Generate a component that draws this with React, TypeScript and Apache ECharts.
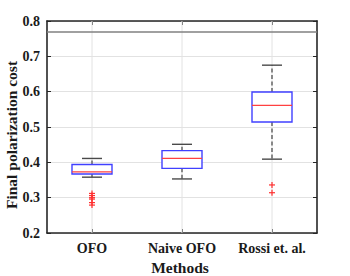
import React, { useEffect, useRef } from "react";
import * as echarts from "echarts";

const categories = ["OFO", "Naive OFO", "Rossi et. al."];
const whiskerLow = [0.358, 0.353, 0.409];
const quartile1 = [0.367, 0.383, 0.514];
const medians = [0.373, 0.411, 0.561];
const quartile3 = [0.394, 0.433, 0.599];
const whiskerHigh = [0.411, 0.451, 0.675];
const ofoOutliers = [0.312, 0.306, 0.3, 0.296, 0.286, 0.279];
const naiveOutliers: number[] = [];
const rossiOutliers = [0.336, 0.314];
const referenceLine = 0.772;
const yTicks = { min: 0.2, max: 0.8, interval: 0.1 };

const FONT = "'Liberation Serif', 'Times New Roman', serif";
const TEXT = "#1a1a1a";
const FRAME = "#262626";

export default function App() {
  const ref = useRef<HTMLDivElement>(null);
  useEffect(() => {
    if (!ref.current) return;
    const chart = echarts.init(ref.current, undefined, { renderer: "svg" });
    const boxData = categories.map((_, i) => [
      i,
      whiskerLow[i],
      quartile1[i],
      medians[i],
      quartile3[i],
      whiskerHigh[i],
    ]);
    const outlierData: number[][] = [];
    [ofoOutliers, naiveOutliers, rossiOutliers].forEach((arr, i) =>
      arr.forEach((v) => outlierData.push([i, v]))
    );

    const axisLine = { show: true, onZero: false, lineStyle: { color: FRAME, width: 1.6 } };
    const axisTick = { show: true, inside: true, length: 4, lineStyle: { color: FRAME, width: 1 } };

    chart.setOption({
      animation: false,
      grid: { left: 47, right: 33, top: 21, bottom: 43, containLabel: false },
      xAxis: [
        {
          type: "category",
          data: categories,
          position: "bottom",
          boundaryGap: true,
          axisLine,
          axisTick: { ...axisTick, alignWithLabel: true },
          axisLabel: {
            color: TEXT,
            fontFamily: FONT,
            fontWeight: "bold",
            fontSize: 14,
            margin: 8,
          },
          splitLine: { show: false },
        },
        {
          type: "category",
          data: categories,
          position: "top",
          boundaryGap: true,
          axisLine,
          axisTick: { ...axisTick, alignWithLabel: true },
          axisLabel: { show: false },
          splitLine: { show: false },
        },
      ],
      yAxis: [
        {
          type: "value",
          position: "left",
          min: yTicks.min,
          max: yTicks.max,
          interval: yTicks.interval,
          axisLine,
          axisTick,
          axisLabel: {
            color: TEXT,
            fontFamily: FONT,
            fontWeight: "bold",
            fontSize: 14,
            margin: 7,
            formatter: (v: number) => v.toFixed(1),
          },
          splitLine: { show: true, lineStyle: { color: "#e2e2e2", width: 1 } },
        },
        {
          type: "value",
          position: "right",
          min: yTicks.min,
          max: yTicks.max,
          interval: yTicks.interval,
          axisLine,
          axisTick,
          axisLabel: { show: false },
          splitLine: { show: false },
        },
      ],
      graphic: [
        {
          type: "text",
          x: 11.5,
          y: 135,
          rotation: Math.PI / 2,
          style: {
            text: "Final polarization cost",
            fontFamily: FONT,
            fontWeight: "bold",
            fontSize: 15.5,
            fill: TEXT,
            align: "center",
            verticalAlign: "middle",
          },
        },
        {
          type: "text",
          x: 180,
          y: 267.5,
          style: {
            text: "Methods",
            fontFamily: FONT,
            fontWeight: "bold",
            fontSize: 15.5,
            fill: TEXT,
            align: "center",
            verticalAlign: "middle",
          },
        },
      ],
      series: [
        {
          type: "custom",
          name: "grid-x",
          z: 1,
          silent: true,
          data: categories.map((_, i) => [i]),
          encode: { x: 0 },
          renderItem: (params: any, api: any) => {
            const cs = params.coordSys;
            const x = api.coord([api.value(0), yTicks.min])[0];
            return {
              type: "line",
              shape: { x1: x, y1: cs.y, x2: x, y2: cs.y + cs.height },
              style: { stroke: "#e2e2e2", lineWidth: 1 },
            };
          },
        },
        {
          type: "line",
          name: "ref",
          data: [],
          z: 2,
          markLine: {
            silent: true,
            symbol: "none",
            label: { show: false },
            lineStyle: { color: "#808080", width: 1.6, type: "solid" },
            data: [{ yAxis: referenceLine }],
          },
        },
        {
          type: "custom",
          name: "box",
          z: 3,
          data: boxData,
          encode: { x: 0, y: [1, 2, 3, 4, 5] },
          renderItem: (params: any, api: any) => {
            const i = api.value(0);
            const pLow = api.coord([i, api.value(1)]);
            const pQ1 = api.coord([i, api.value(2)]);
            const pMed = api.coord([i, api.value(3)]);
            const pQ3 = api.coord([i, api.value(4)]);
            const pHigh = api.coord([i, api.value(5)]);
            const x = pLow[0];
            const hw = 20;
            const cw = 10;
            const whisker = { stroke: "#666666", lineWidth: 1.5, lineDash: [4, 2.5] };
            const cap = { stroke: "#4a4a4a", lineWidth: 1.4 };
            return {
              type: "group",
              children: [
                { type: "line", shape: { x1: x, y1: pQ3[1], x2: x, y2: pHigh[1] }, style: whisker },
                { type: "line", shape: { x1: x, y1: pQ1[1], x2: x, y2: pLow[1] }, style: whisker },
                { type: "line", shape: { x1: x - cw, y1: pHigh[1], x2: x + cw, y2: pHigh[1] }, style: cap },
                { type: "line", shape: { x1: x - cw, y1: pLow[1], x2: x + cw, y2: pLow[1] }, style: cap },
                {
                  type: "rect",
                  shape: { x: x - hw, y: pQ3[1], width: 2 * hw, height: pQ1[1] - pQ3[1] },
                  style: { fill: "#ffffff", stroke: "#4040ff", lineWidth: 1.4 },
                },
                {
                  type: "line",
                  shape: { x1: x - hw, y1: pMed[1], x2: x + hw, y2: pMed[1] },
                  style: { stroke: "#ff4040", lineWidth: 1.3 },
                },
              ],
            };
          },
        },
        {
          type: "custom",
          name: "outliers",
          z: 4,
          data: outlierData,
          encode: { x: 0, y: 1 },
          renderItem: (params: any, api: any) => {
            const p = api.coord([api.value(0), api.value(1)]);
            const s = 3;
            const st = { stroke: "#ff3030", lineWidth: 1.2 };
            return {
              type: "group",
              children: [
                { type: "line", shape: { x1: p[0] - s, y1: p[1], x2: p[0] + s, y2: p[1] }, style: st },
                { type: "line", shape: { x1: p[0], y1: p[1] - s, x2: p[0], y2: p[1] + s }, style: st },
              ],
            };
          },
        },
      ],
    });
    return () => chart.dispose();
  }, []);
  return <div ref={ref} style={{ width: 350, height: 276, position: "absolute", left: 0, top: 0 }} />;
}
